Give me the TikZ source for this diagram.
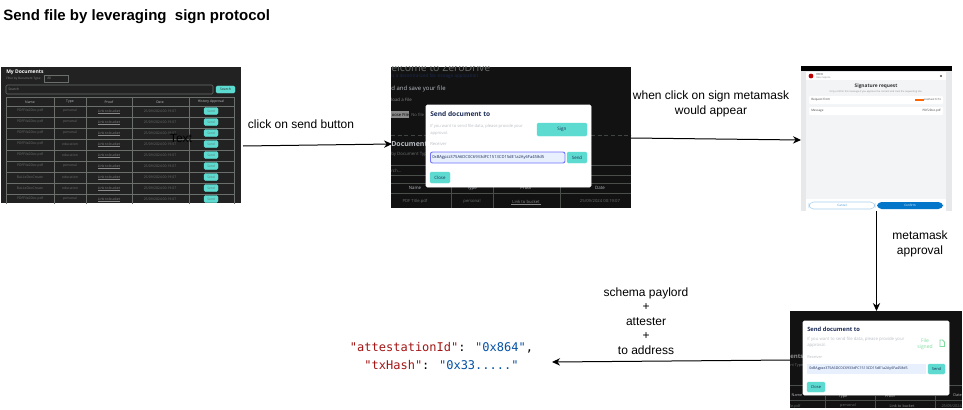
\documentclass[tikz,border=0pt]{standalone}
\usepackage{fontspec}
\setmainfont{Liberation Sans}
\newfontfamily\uifont{Open Sans}
\newfontfamily\codefont{DejaVu Sans Mono}
\usetikzlibrary{arrows.meta}
\definecolor{teal1}{HTML}{5EDBD0}
\definecolor{navy1}{HTML}{1B2B55}
\definecolor{dark1}{HTML}{222222}
\definecolor{dark2}{HTML}{121212}
\definecolor{grid1}{HTML}{6A6F6C}
\definecolor{mute1}{HTML}{8A8A8A}
\definecolor{mute2}{HTML}{B9BEC4}
\definecolor{okgreen}{HTML}{7FDDA0}
\definecolor{field1}{HTML}{E8F0FE}
\definecolor{blue1}{HTML}{0376C9}
\definecolor{page1}{HTML}{F2F4F6}
\definecolor{side1}{HTML}{E6E8EA}
\definecolor{codered}{HTML}{A31515}
\definecolor{codeblue}{HTML}{0451A5}
\newcounter{tn}
% \uit[anchor]{x}{y}{size in px}{colour}{text}
\newcommand{\uit}[6][west]{\stepcounter{tn}\pgfmathsetmacro{\uisz}{#4*0.75}\node[anchor=#1,inner sep=0pt,text=#5,font=\uifont\fontsize{\uisz}{\uisz}\selectfont] (t\arabic{tn}) at (#2,#3) {#6};}
\newcommand{\rbox}[5]{\filldraw[#5] (#1,#2) rectangle (#3,#4);}
\tikzset{
  shot/.style={inner sep=0pt,outer sep=0pt,draw=none},
  lbl/.style={align=center,inner sep=0pt,font=\fontsize{9}{10.8}\selectfont,text=black},
  flow/.style={draw=black,line width=0.75pt,-{Stealth[length=6pt,width=5.5pt]}},
  tealbtn/.style={fill=teal1,draw=teal1,rounded corners=1pt,line width=0.3pt},
  modal/.style={fill=white,draw=white,rounded corners=1pt},
  ulk/.style={mute1,line width=0.2pt}
}
\begin{document}
\begin{tikzpicture}[x=0.75pt,y=-0.75pt]
\useasboundingbox (0,0) rectangle (963,410);
\fill[white] (0,0) rectangle (963,410);
\node[anchor=west,inner sep=0pt,font=\bfseries\fontsize{11.25}{13}\selectfont] (title) at (3,17) {Send file by leveraging\ \ sign protocol};

% screenshot nodes
\node[shot,fill=dark1,minimum width=180pt,minimum height=102pt] (s1) at (121,135) {};
\node[shot,fill=dark2,minimum width=180pt,minimum height=105.75pt] (s2) at (511,137.5) {};
\node[shot,fill=page1,minimum width=113.25pt,minimum height=108pt] (s3) at (876.5,139) {};
\node[shot,fill=dark2,minimum width=129pt,minimum height=72.75pt] (s4) at (876,359.5) {};

% ---------- screenshot 1
\begin{scope}
\clip (1,67) rectangle (241,203);
\uit{6}{72}{5}{white}{\bfseries My Documents}
\uit{6}{78.5}{3}{mute1}{Filter by Document Type:}
\draw[grid1,line width=0.4pt] (44,75) rectangle (68,82);
\uit{47}{78.5}{3.4}{mute1}{All}
\draw[grid1,line width=0.4pt,rounded corners=1pt] (6,85) rectangle (213,94);
\uit{8}{89.5}{3.4}{mute1}{Search}
\rbox{216}{86}{235}{93}{tealbtn}
\uit[center]{225.5}{89.5}{3.4}{dark1}{Search}
\draw[grid1,line width=0.5pt] (6,97.5) rectangle (234.5,210);
\foreach \xc in {54,86,132,189}{\draw[grid1,line width=0.5pt] (\xc,97.5) -- (\xc,205);}
\foreach \yc in {106,117,128,139,150,161,172,183,194}{\draw[grid1,line width=0.5pt] (6,\yc) -- (234.5,\yc);}
\uit[center]{30}{102}{3.4}{mute2}{Name}
\uit[center]{70}{102}{3.4}{mute2}{Type}
\uit[center]{109}{102}{3.4}{mute2}{Proof}
\uit[center]{160}{102}{3.4}{mute2}{Date}
\uit[center]{211}{102}{3.4}{mute2}{History Approval}
\foreach \yc/\nm/\ty in {111/PDFFile2Doc.pdf/personal,122/PDFFile2Doc.pdf/personal,133/PDFFile2Doc.pdf/personal,144/PDFFile2Doc.pdf/education,155/PDFFile2Doc.pdf/education,166/PDFFile2Doc.pdf/personal,177/BaLLeDocCreate/education,188/BaLLeDocCreate/education,199/PDFFile2Doc.pdf/personal}{
  \uit[center]{30}{\yc}{3.4}{grid1}{\nm}
  \uit[center]{70}{\yc}{3.4}{grid1}{\ty}
  \uit[center]{109}{\yc}{3.4}{mute1}{Link to bucket}
  \draw[ulk] (98,\yc+1.7) -- (120,\yc+1.7);
  \uit[center]{160}{\yc}{3.4}{grid1}{25/09/2024 00:19:07}
  \rbox{204}{\yc-3.5}{218}{\yc+3.5}{tealbtn}
  \uit[center]{211}{\yc}{3.2}{grid1}{Send}
}
\end{scope}
\node[inner sep=0pt,font=\fontsize{9}{10}\selectfont] (txt) at (181,138) {Text};

% ---------- screenshot 2
\begin{scope}
\clip (391,67) rectangle (631,208);
\uit{391}{67.5}{10.5}{grid1}{elcome to ZeroDrive}
\uit{391}{76}{4.6}{navy1}{is a decentralized file storage application}
\uit{391}{89}{6}{mute2}{d and save your file}
\uit{391}{100}{4.4}{mute1}{load a File}
\fill[mute1] (391,111) rectangle (409,118);
\uit{391.5}{114.5}{4.2}{black}{oose File}
\uit{411}{114.5}{4.2}{grid1}{No file}
\draw[grid1!60!black,line width=0.3pt,densely dashed] (391,135) -- (631,135);
\uit{391}{144.5}{7}{mute2}{\bfseries Documents}
\uit{391}{154.5}{4.4}{grid1}{by Document Type:}
\uit{391}{170.5}{4.4}{grid1}{rch...}
\foreach \yc in {165,175,183,193}{\draw[grid1!70!black,line width=0.4pt] (391,\yc) -- (631,\yc);}
\foreach \xc in {451,493,560}{\draw[grid1!70!black,line width=0.4pt] (\xc,183) -- (\xc,208);}
\uit[center]{415}{188}{4.4}{mute2}{Name}
\uit[center]{472}{188}{4.4}{mute2}{Type}
\uit[center]{526}{188}{4.4}{mute2}{Proof}
\uit[center]{600}{188}{4.4}{mute2}{Date}
\uit[center]{415}{201.5}{4.2}{grid1}{PDF Title.pdf}
\uit[center]{472}{201.5}{4.2}{grid1}{personal}
\uit[center]{526}{201.5}{4.2}{mute1}{Link to bucket}
\draw[ulk] (511,204) -- (541,204);
\uit[center]{600}{201.5}{4.2}{grid1}{25/09/2024 00:19:07}
\rbox{426}{105}{591}{187}{modal}
\uit{430}{114}{6.6}{navy1}{\bfseries Send document to}
\uit{430}{126}{4.1}{mute2}{If you want to send file data, please provide your}
\uit{430}{133}{4.1}{mute2}{approval.}
\rbox{537}{123}{587}{136}{tealbtn}
\uit[center]{562}{129.5}{4.6}{navy1}{Sign}
\uit{430}{144}{4.2}{mute2}{Receiver}
\filldraw[fill=field1,draw=blue!55!white,line width=0.7pt,rounded corners=1.5pt] (430.5,152) rectangle (565,163);
\uit{432}{157.5}{4.1}{navy1}{0xBAgpzz375A6DC0C6933dFC1513CD15dE1a2Ay6Fa458d5}
\rbox{567}{152}{587}{163}{tealbtn}
\uit[center]{577}{157.5}{4.4}{navy1}{Send}
\rbox{430}{172}{450}{183}{tealbtn}
\uit[center]{440}{177.5}{4.4}{navy1}{Close}
\end{scope}

% ---------- screenshot 3
\begin{scope}
\clip (801,67) rectangle (952,211);
\fill[side1] (801,67) rectangle (952,211);
\fill[page1] (806,80) rectangle (946,199);
\fill[black] (801,66) rectangle (952,71);
\fill[white] (806,72) rectangle (946,80);
\fill[white] (806,199) rectangle (946,211);
\fill[red!75!black] (811,76) circle (2.4);
\uit{816}{74.5}{2.8}{black!70}{FRED}
\uit{816}{77.5}{2.4}{mute1}{Base Sepolia}
\fill[black!70] (941,76) circle (1.1);
\uit[center]{876}{86}{4.8}{black!80}{\bfseries Signature request}
\uit[center]{876}{91.5}{2.4}{mute1}{Only confirm this message if you approve the content and trust the requesting site.}
\fill[white,rounded corners=0.8pt] (809,96) rectangle (943,104);
\fill[white,rounded corners=0.8pt] (809,107) rectangle (943,115);
\uit{811}{100}{3}{black!75}{Request from}
\uit[east]{941}{100}{2.5}{black!75}{localhost:5173}
\fill[orange!80!red] (915,99) rectangle (923.5,101);
\uit{811}{110.5}{3}{black!75}{Message}
\uit[east]{941}{110.5}{3}{black!75}{PDF2Doc.pdf}
\filldraw[fill=white,draw=blue1!35!white,line width=0.4pt,rounded corners=3.4pt] (809,202) rectangle (875,209);
\uit[center]{842}{205.5}{3}{blue1!80}{Cancel}
\fill[blue1,rounded corners=3.4pt] (877,202) rectangle (943,209);
\uit[center]{910}{205.5}{3}{white}{Confirm}
\end{scope}

% ---------- screenshot 4
\begin{scope}
\clip (790,311) rectangle (962,408);
\uit{790}{357}{6}{mute1}{\bfseries ents}
\uit{790}{365.5}{3.8}{grid1}{nt Type:}
\foreach \yc in {385,400}{\draw[grid1!70!black,line width=0.4pt] (790,\yc) -- (962,\yc);}
\foreach \xc in {825,875,935}{\draw[grid1!70!black,line width=0.4pt] (\xc,396) -- (\xc,408);}
\uit[center]{797}{395.5}{3.8}{mute2}{Name}
\uit[center]{843}{396.5}{3.8}{mute2}{Type}
\uit[center]{890}{396.5}{3.8}{mute2}{Proof}
\uit[east]{962}{395.5}{3.8}{mute2}{Date}
\uit{790}{406}{3.8}{grid1}{le.pdf}
\uit[center]{848}{406}{3.8}{grid1}{personal}
\uit[center]{902}{406}{3.8}{mute1}{Link to bucket}
\uit[east]{962}{406}{3.8}{grid1}{25/09/2024}
\rbox{803}{321}{949}{395}{modal}
\uit{807}{329}{5.8}{navy1}{\bfseries Send document to}
\uit{807}{339.5}{4.3}{mute2}{If you want to send file data, please provide your}
\uit{807}{345.5}{4.3}{mute2}{approval.}
\uit[center]{925}{340.5}{5}{okgreen}{File}
\uit[center]{925}{347}{5}{okgreen}{signed}
\draw[okgreen,line width=0.6pt] (940,340) -- (942.5,340) -- (944.5,342) -- (944.5,346.5) -- (940,346.5) -- cycle;
\uit{807}{357}{3.8}{mute2}{Receiver}
\fill[field1] (807,364) rectangle (926,374);
\uit{809}{369}{3.6}{navy1}{0xBAgpzz375A6DC0C6933dFC1513CD15dE1a2Ay6Fa458d5}
\rbox{928}{364}{945}{374}{tealbtn}
\uit[center]{936.5}{369}{4}{navy1}{Send}
\rbox{807}{382}{825}{392}{tealbtn}
\uit[center]{816}{387}{4}{navy1}{Close}
\end{scope}

% labels
\node[lbl] (l1) at (301,124) {click on send button};
\node[lbl] (l2) at (711,104) {when click on sign metamask\\would appear};
\node[lbl] (l3) at (920,244) {metamask\\ approval};
\node[lbl] (l4) at (646,321) {schema paylord\\+\\attester\\+\\to address};
\node[align=center,inner sep=0pt,font=\codefont\fontsize{9}{13.5}\selectfont] (res) at (441.5,356.5)
  {\textcolor{codered}{"attestationId"}: \textcolor{codeblue}{"0x864"},\\\textcolor{codered}{"txHash"}: \textcolor{codeblue}{"0x33....."}};
\coordinate (resend) at (552,362);

% connectors
\draw[flow] ([shift={(2,11)}]s1.east) -- ([shift={(1,6.5)}]s2.west);
\draw[flow] ([shift={(0,0.5)}]s2.east) -- ([shift={(0,1)}]s3.west);
\draw[flow] (s3.south) -- (s3.south |- s4.north);
\draw[flow] ([shift={(0,0.5)}]s4.west) -- (resend);
\end{tikzpicture}
\end{document}
